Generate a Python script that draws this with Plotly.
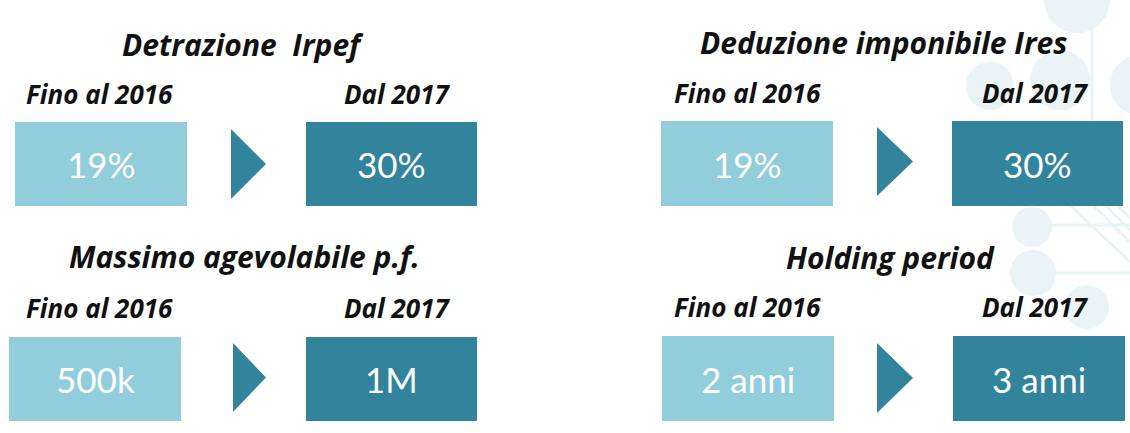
import plotly.graph_objects as go

# ---- content ----
titles = ["Detrazione  Irpef", "Deduzione imponibile Ires", "Massimo agevolabile p.f.", "Holding period"]
before_label = "Fino al 2016"
after_label = "Dal 2017"
before_values = ["19%", "19%", "500k", "2 anni"]
after_values = ["30%", "30%", "1M", "3 anni"]

# ---- layout (pixel geometry of each panel) ----
W, H = 1130, 433
LIGHT = "#92CDDC"
DARK = "#31849B"
DECO = "#eaf3f6"
TFONT = "Open Sans"
VFONT = "Lato"

panels = [
    dict(tx=243, ty=44, ly=94, fx=99, dx=397, bx0=15, bx1=187, dx0=306, dx1=477, by0=122, by1=206, ax0=231, ax1=266, ay0=129, ay1=199),
    dict(tx=884, ty=42, ly=93, fx=747, dx=1035, bx0=661, bx1=833, dx0=952, dx1=1123, by0=121, by1=206, ax0=877, ax1=913, ay0=127, ay1=196),
    dict(tx=244, ty=256, ly=308, fx=99, dx=397, bx0=9, bx1=181, dx0=306, dx1=477, by0=337, by1=421, ax0=233, ax1=266, ay0=343, ay1=412),
    dict(tx=890, ty=257, ly=307, fx=747, dx=1035, bx0=662, bx1=834, dx0=953, dx1=1125, by0=336, by1=421, ax0=877, ax1=913, ay0=343, ay1=413),
]

fig = go.Figure()
shapes = []
annotations = []

# faint decorative circuit pattern (background, right side)
deco_circles = [(1077, 0, 33), (1060, 80, 30), (990, 86, 24), (1140, 85, 30),
                (1032, 227, 20), (1033, 273, 23), (1087, 307, 22)]
for cx, cy, r in deco_circles:
    shapes.append(dict(type="circle", xref="x", yref="y", x0=cx - r, x1=cx + r, y0=cy - r, y1=cy + r,
                       fillcolor=DECO, line=dict(width=0), layer="below"))
deco_lines = [(1092, 25, 1092, 135), (1050, 225, 1130, 225), (1055, 273, 1130, 273),
              (1088, 200, 1130, 242), (1100, 200, 1130, 230), (1112, 200, 1130, 218),
              (1070, 205, 1130, 262)]
for x0, y0, x1, y1 in deco_lines:
    shapes.append(dict(type="line", xref="x", yref="y", x0=x0, y0=y0, x1=x1, y1=y1,
                       line=dict(color=DECO, width=3), layer="below"))

for i, p in enumerate(panels):
    shapes.append(dict(type="rect", xref="x", yref="y", x0=p["bx0"], x1=p["bx1"], y0=p["by0"], y1=p["by1"],
                       fillcolor=LIGHT, line=dict(width=0)))
    shapes.append(dict(type="rect", xref="x", yref="y", x0=p["dx0"], x1=p["dx1"], y0=p["by0"], y1=p["by1"],
                       fillcolor=DARK, line=dict(width=0)))
    ym = (p["ay0"] + p["ay1"]) / 2
    shapes.append(dict(type="path", xref="x", yref="y",
                       path=f"M {p['ax0']},{p['ay0']} L {p['ax1']},{ym} L {p['ax0']},{p['ay1']} Z",
                       fillcolor=DARK, line=dict(width=0)))
    annotations.append(dict(x=p["tx"], y=p["ty"], xref="x", yref="y", text=f"<b><i>{titles[i]}</i></b>",
                            showarrow=False, font=dict(family=TFONT, size=30, color="#111111")))
    annotations.append(dict(x=p["fx"], y=p["ly"], xref="x", yref="y", text=f"<b><i>{before_label}</i></b>",
                            showarrow=False, font=dict(family=TFONT, size=26, color="#111111")))
    annotations.append(dict(x=p["dx"], y=p["ly"], xref="x", yref="y", text=f"<b><i>{after_label}</i></b>",
                            showarrow=False, font=dict(family=TFONT, size=26, color="#111111")))
    by = (p["by0"] + p["by1"]) / 2
    annotations.append(dict(x=(p["bx0"] + p["bx1"]) / 2, y=by, xref="x", yref="y", text=before_values[i],
                            showarrow=False, font=dict(family=VFONT, size=35, color="white")))
    annotations.append(dict(x=(p["dx0"] + p["dx1"]) / 2, y=by, xref="x", yref="y", text=after_values[i],
                            showarrow=False, font=dict(family=VFONT, size=35, color="white")))

fig.update_layout(
    width=W, height=H,
    margin=dict(l=0, r=0, t=0, b=0),
    paper_bgcolor="white", plot_bgcolor="white",
    xaxis=dict(range=[0, W], visible=False, fixedrange=True),
    yaxis=dict(range=[H, 0], visible=False, fixedrange=True),
    shapes=shapes, annotations=annotations, showlegend=False,
)

fig.write_html("out.html", config=dict(displayModeBar=False),
               post_script="document.body.style.margin='0';document.body.style.overflow='hidden';")
